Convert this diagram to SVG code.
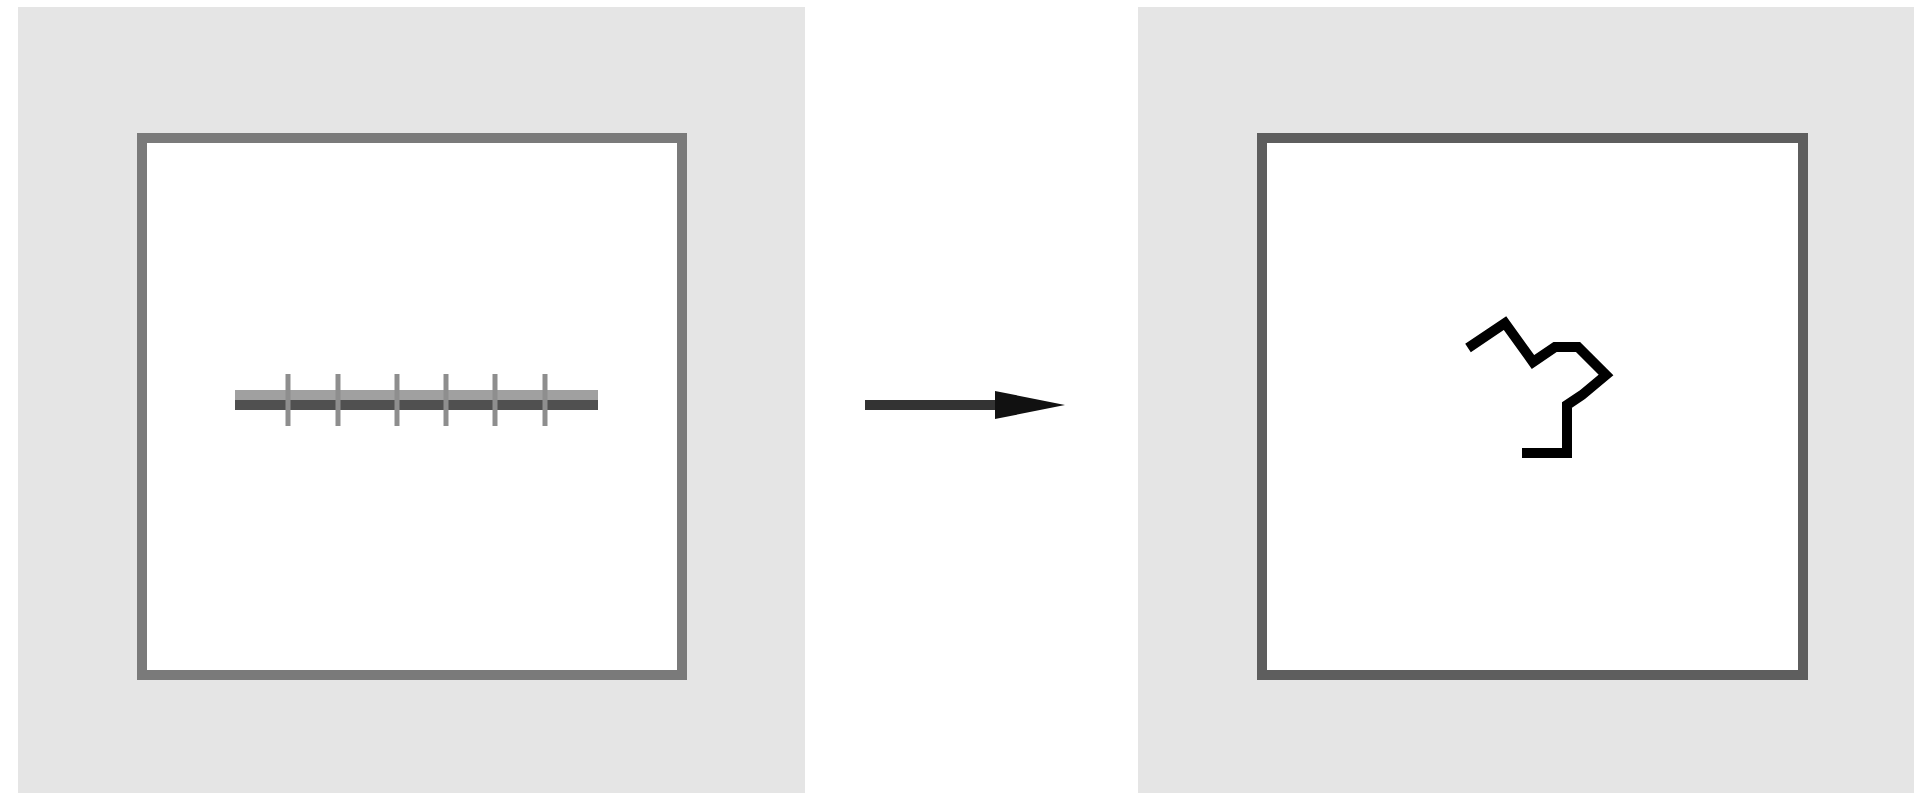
<svg xmlns="http://www.w3.org/2000/svg" width="1914" height="795" viewBox="0 0 1914 795">
  <style>
    .panel { fill: #e5e5e5; }
    .frame { fill: #ffffff; stroke-width: 10; }
    .tick { stroke: #8e8e8e; stroke-width: 5; }
    .conn { stroke: #333333; stroke-width: 10; fill: none; }
  </style>
  <defs>
    <marker id="ah" markerUnits="userSpaceOnUse" markerWidth="80" markerHeight="40" refX="5" refY="14" orient="auto">
      <path d="M0,0 L70,14 L0,28 Z" fill="#111111"/>
    </marker>
  </defs>
  <rect x="0" y="0" width="1914" height="795" fill="#ffffff"/>

  <g id="before">
    <rect class="panel" x="18" y="7" width="787" height="786"/>
    <rect class="frame" x="142" y="138" width="540" height="537" stroke="#7a7a7a"/>
    <line x1="235" y1="395" x2="598" y2="395" stroke="#a0a0a0" stroke-width="10"/>
    <line x1="235" y1="405" x2="598" y2="405" stroke="#505050" stroke-width="10"/>
    <line class="tick" x1="288" y1="374" x2="288" y2="426"/>
    <line class="tick" x1="338" y1="374" x2="338" y2="426"/>
    <line class="tick" x1="397" y1="374" x2="397" y2="426"/>
    <line class="tick" x1="446" y1="374" x2="446" y2="426"/>
    <line class="tick" x1="495" y1="374" x2="495" y2="426"/>
    <line class="tick" x1="545" y1="374" x2="545" y2="426"/>
  </g>

  <g id="after">
    <rect class="panel" x="1138" y="7" width="776" height="786"/>
    <rect class="frame" x="1262" y="138" width="541" height="537" stroke="#5e5e5e"/>
    <polyline points="1468,348 1505,323 1533,362 1555,347 1578,347 1606,375 1582,395 1567,405 1567,453 1522,453" fill="none" stroke="#000000" stroke-width="10" stroke-linejoin="miter"/>
  </g>

  <g id="connectors">
    <line class="conn" x1="865" y1="405" x2="1000" y2="405" marker-end="url(#ah)"/>
  </g>
</svg>
